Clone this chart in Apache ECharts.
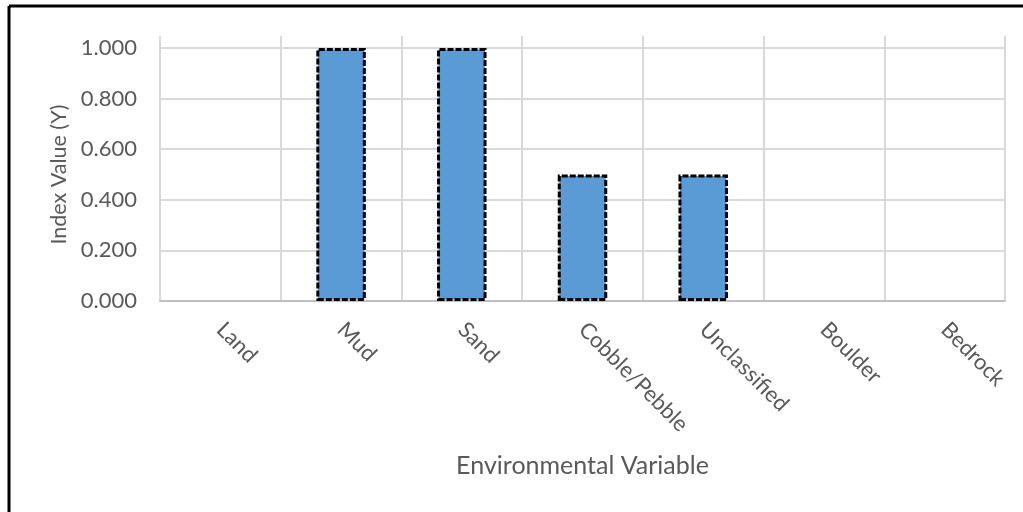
<!DOCTYPE html>
<html>
<head>
<meta charset="utf-8">
<script src="https://cdn.jsdelivr.net/npm/echarts@6/dist/echarts.min.js"></script>
<style>
  html, body { margin: 0; padding: 0; background: #fff; overflow: hidden; }
  #chart { width: 1023px; height: 512px; }
</style>
</head>
<body>
<div id="chart"></div>
<script>
// Habitat categories along the x axis
const categories = ['Land', 'Mud', 'Sand', 'Cobble/Pebble', 'Unclassified', 'Boulder', 'Bedrock'];
// Index value for each category
const indexValues = [0, 1, 1, 0.5, 0.5, 0, 0];
// Value axis range and tick step
const yMin = 0;
const yMax = 1;
const yStep = 0.2;

const FONT = 'Lato, "Open Sans", sans-serif';
const GRID_LEFT = 160, GRID_RIGHT = 18, GRID_BOTTOM = 211;

const chart = echarts.init(document.getElementById('chart'), null, { renderer: 'canvas' });

// Zero-valued bars carry no outline so nothing is drawn for them
const barData = indexValues.map(v => v === 0
  ? { value: v, itemStyle: { borderWidth: 0 } }
  : v);

chart.setOption({
  animation: false,
  backgroundColor: '#ffffff',
  grid: [
    // main plotting area
    { left: GRID_LEFT, right: GRID_RIGHT, top: 48, bottom: GRID_BOTTOM },
    // slightly taller area that only carries the category separators
    { left: GRID_LEFT, right: GRID_RIGHT, top: 36, bottom: GRID_BOTTOM }
  ],
  xAxis: [
    {
      gridIndex: 0,
      type: 'category',
      data: categories,
      boundaryGap: true,
      axisLine: { show: true, lineStyle: { color: '#bfbfbf', width: 2 } },
      axisTick: { show: false },
      splitLine: { show: false },
      axisLabel: {
        rotate: -45,
        margin: 25,
        color: '#595959',
        fontFamily: FONT,
        fontSize: 22,
        interval: 0
      },
      name: 'Environmental Variable',
      nameLocation: 'middle',
      nameGap: 152,
      nameTextStyle: { color: '#595959', fontFamily: FONT, fontSize: 25 }
    },
    {
      gridIndex: 1,
      type: 'category',
      data: categories,
      boundaryGap: true,
      axisLine: { show: false },
      axisTick: { show: false },
      axisLabel: { show: false },
      splitLine: { show: true, lineStyle: { color: '#d9d9d9', width: 2 } }
    }
  ],
  yAxis: [
    {
      gridIndex: 0,
      type: 'value',
      min: yMin,
      max: yMax,
      interval: yStep,
      axisLine: { show: false },
      axisTick: { show: false },
      splitLine: { show: true, lineStyle: { color: '#d9d9d9', width: 2 } },
      axisLabel: {
        margin: 23,
        color: '#595959',
        fontFamily: FONT,
        fontSize: 22,
        formatter: v => v.toFixed(3)
      },
      name: 'Index Value (Y)',
      nameLocation: 'middle',
      nameGap: 86,
      nameTextStyle: { color: '#595959', fontFamily: FONT, fontSize: 21.5 }
    },
    {
      gridIndex: 1,
      type: 'value',
      show: false,
      min: 0,
      max: 1
    }
  ],
  series: [
    {
      type: 'bar',
      xAxisIndex: 0,
      yAxisIndex: 0,
      data: barData,
      barWidth: '41%',
      itemStyle: {
        color: '#5b9bd5',
        borderColor: '#000000',
        borderWidth: 3,
        borderType: [6, 2]
      }
    }
  ],
  graphic: [
    {
      type: 'line',
      silent: true,
      shape: { x1: 9, y1: 6, x2: 9, y2: 530 },
      style: { stroke: '#000000', lineWidth: 3 }
    },
    {
      type: 'line',
      silent: true,
      shape: { x1: 9, y1: 6, x2: 1040, y2: 6 },
      style: { stroke: '#000000', lineWidth: 3 }
    }
  ]
});
</script>
</body>
</html>
